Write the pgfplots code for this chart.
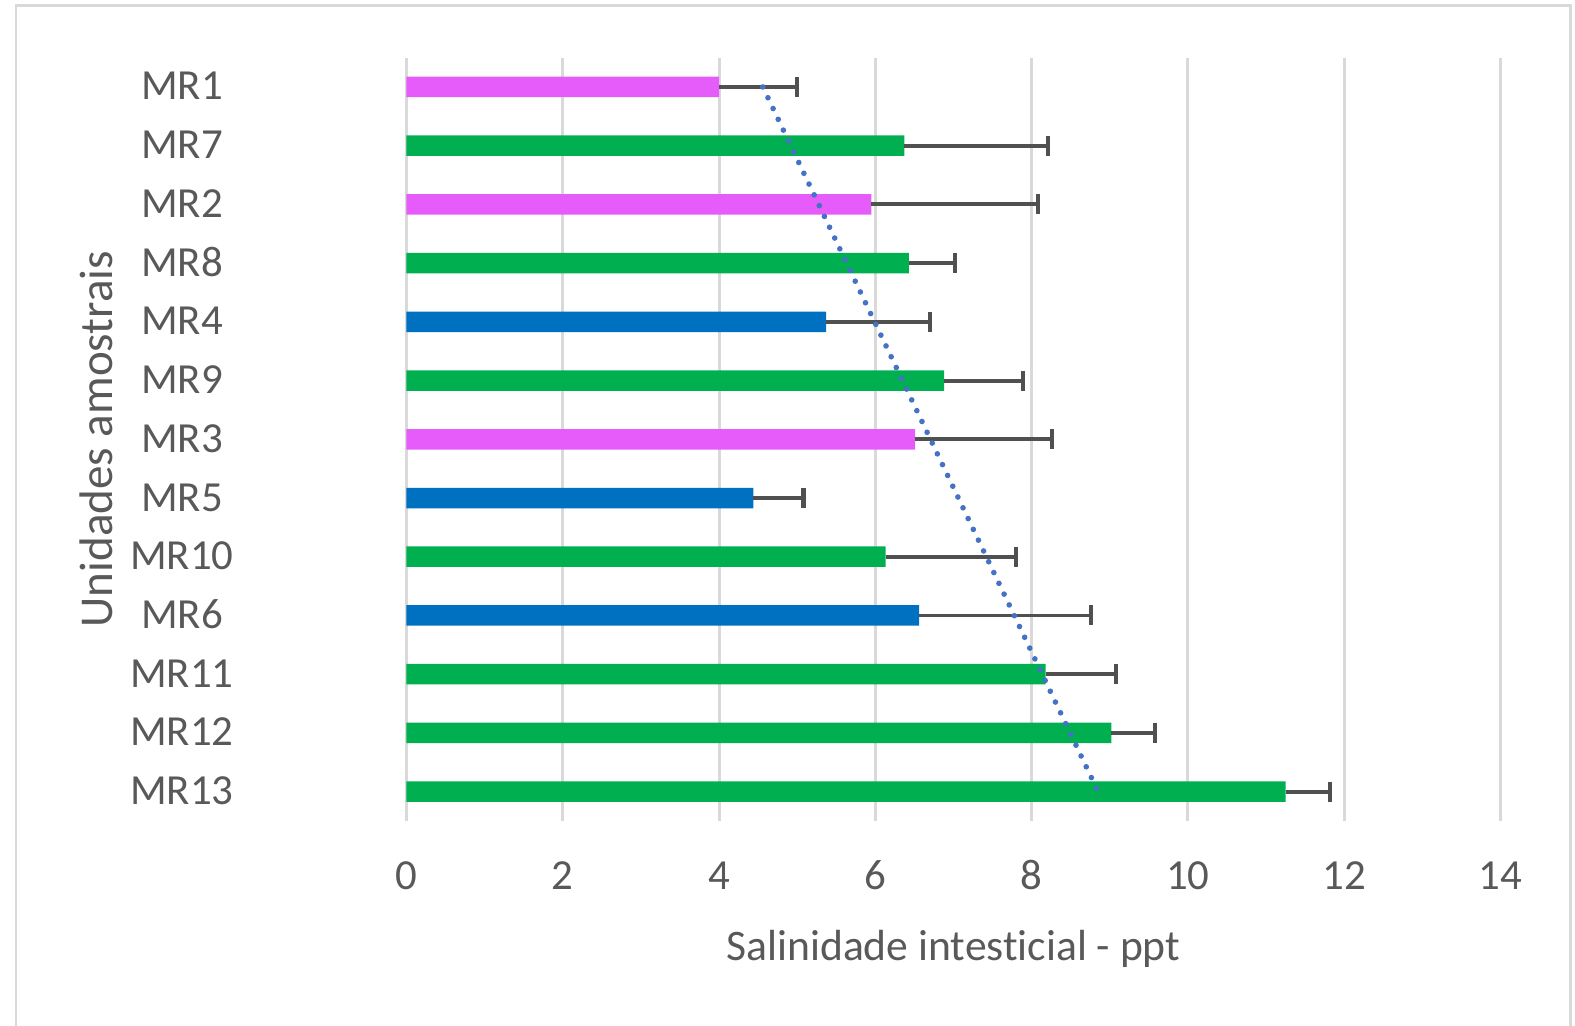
\documentclass[border=0pt]{standalone}
\usepackage{fontspec}
\setmainfont{Carlito}[Ligatures={NoCommon,NoRare}]
\usepackage{pgfplots}
\usepackage{pgfplotstable}
\pgfplotsset{compat=1.18}
\definecolor{txt}{HTML}{595959}
\definecolor{gridc}{HTML}{D9D9D9}
\definecolor{pinkbar}{HTML}{E65CFA}
\definecolor{greenbar}{HTML}{00B050}
\definecolor{bluebar}{HTML}{0070C0}
\definecolor{trend}{HTML}{4472C4}
\definecolor{errc}{HTML}{505050}

% i = row (0 = MR1 at top), v = mean, e = plus error
\pgfplotstableread{
i v e
0 4.00 1.00
2 5.95 2.13
6 6.51 1.75
}\pinkdata
\pgfplotstableread{
i v e
1 6.37 1.84
3 6.43 0.59
5 6.88 1.01
8 6.13 1.67
10 8.18 0.90
11 9.02 0.56
12 11.25 0.57
}\greendata
\pgfplotstableread{
i v e
4 5.37 1.33
7 4.44 0.64
9 6.56 2.20
}\bluedata

\begin{document}
\begin{tikzpicture}
\path[use as bounding box] (0,0) rectangle (15.75,10.26);
\draw[gridc, line width=0.85pt] (0.16,-0.3) rectangle (15.70,10.20);
\begin{axis}[
  at={(4.065cm,2.05cm)}, anchor=south west,
  scale only axis, width=10.94cm, height=7.634cm,
  xmin=0, xmax=14, ymin=-0.5, ymax=12.5,
  y dir=reverse,
  xtick={0,2,...,14},
  ytick={0,...,12},
  yticklabels={MR1,MR7,MR2,MR8,MR4,MR9,MR3,MR5,MR10,MR6,MR11,MR12,MR13},
  axis line style={draw=none},
  major tick length=0pt,
  xmajorgrids, ymajorgrids=false,
  grid style={gridc, line width=0.85pt},
  /pgf/number format/assume math mode=true,
  tick label style={font=\fontsize{12.2}{14}\selectfont, text=txt},
  xticklabel style={anchor=base, yshift=-0.683cm},
  yticklabel style={anchor=base, xshift=-2.245cm, yshift=-0.13cm},
  xlabel={Salinidade intesticial - ppt},
  ylabel={Unidades amostrais},
  every axis x label/.style={at={(axis description cs:0.5,-0.1822)}, anchor=base, font=\fontsize{12.4}{15}\selectfont, text=txt},
  every axis y label/.style={at={(axis description cs:-0.2683,0.5)}, anchor=base, rotate=90, font=\fontsize{13.4}{15}\selectfont, text=txt},
  xbar, bar width=0.205cm, bar shift=0pt,
  error bars/x dir=plus, error bars/x explicit,
  error bars/error bar style={errc, line width=1.1pt},
  error bars/error mark options={errc, line width=1.2pt, mark size=1mm, rotate=90},
]
\addplot[draw=none, fill=pinkbar] table[x=v, y=i, x error=e] {\pinkdata};
\addplot[draw=none, fill=greenbar] table[x=v, y=i, x error=e] {\greendata};
\addplot[draw=none, fill=bluebar] table[x=v, y=i, x error=e] {\bluedata};
\addplot[sharp plot, forget plot, trend, line width=1.6pt, line cap=round, dash pattern=on 0pt off 3.4pt, mark=none] coordinates {(4.56,0) (8.85,12)};
\end{axis}
\end{tikzpicture}
\end{document}
